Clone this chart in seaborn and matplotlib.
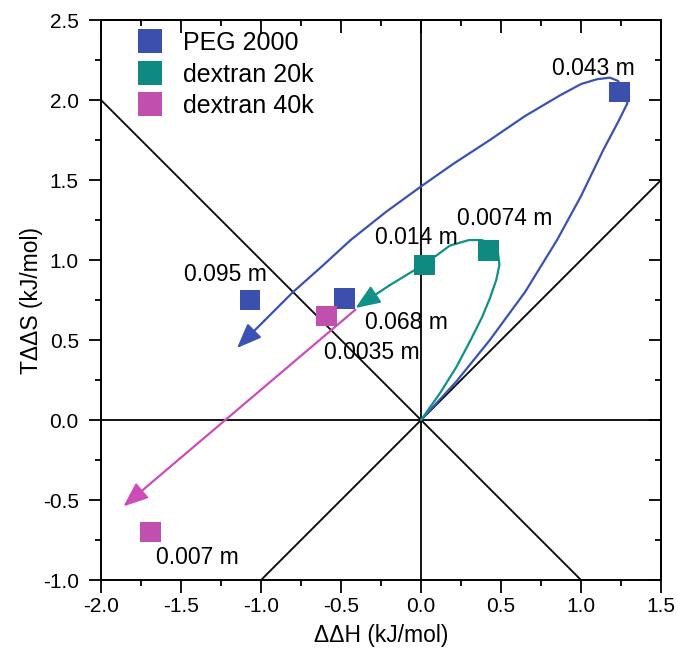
import pandas as pd
import matplotlib.pyplot as plt
import seaborn as sns
from matplotlib.ticker import MultipleLocator

# pontos medidos
polimero = ['PEG 2000', 'PEG 2000', 'PEG 2000',
            'dextran 20k', 'dextran 20k',
            'dextran 40k', 'dextran 40k']
dH = [1.24, -1.07, -0.48, 0.02, 0.42, -0.59, -1.69]
TdS = [2.05, 0.75, 0.76, 0.97, 1.06, 0.65, -0.70]

rotulos = ['0.043 m', '0.095 m', '0.068 m', '0.014 m', '0.0074 m', '0.0035 m', '0.007 m']
rot_x = [1.08, -1.22, -0.09, -0.03, 0.52, -0.31, -1.40]
rot_y = [2.20, 0.91, 0.61, 1.14, 1.26, 0.425, -0.86]

# curvas (setas) desenhadas à mão no original
peg_x = [0.0, 0.22, 0.43, 0.65, 0.85, 1.0, 1.14, 1.23, 1.29, 1.27, 1.23, 1.18, 1.1, 1.0, 0.87,
         0.65, 0.43, 0.2, 0.0, -0.22, -0.44, -0.62, -0.8, -0.98, -1.15]
peg_y = [0.0, 0.24, 0.5, 0.8, 1.125, 1.4, 1.69, 1.86, 1.98, 2.06, 2.12, 2.14, 2.13, 2.1, 2.03,
         1.9, 1.75, 1.6, 1.46, 1.3, 1.125, 0.96, 0.8, 0.62, 0.45]
d20_x = [0.0, 0.12, 0.22, 0.31, 0.38, 0.43, 0.47, 0.49, 0.48, 0.44, 0.38, 0.3, 0.18, 0.03, -0.2, -0.41]
d20_y = [0.0, 0.17, 0.33, 0.5, 0.64, 0.76, 0.875, 0.97, 1.05, 1.1, 1.125, 1.125, 1.09, 0.98, 0.84, 0.70]
d40_x = [-0.41, -1.86]
d40_y = [0.69, -0.54]

cores = {'PEG 2000': '#3b4fac', 'dextran 20k': '#0f8a80', 'dextran 40k': '#c04fae'}
cores_curva = {'PEG 2000': '#3a52b2', 'dextran 20k': '#109088', 'dextran 40k': '#cc4cba'}

dados = pd.DataFrame({'polimero': polimero, 'dH': dH, 'TdS': TdS})

sns.set_style('ticks')
plt.rcParams['font.family'] = ['Liberation Sans', 'DejaVu Sans']
plt.rcParams.update({'text.color': 'black', 'axes.labelcolor': 'black',
                     'xtick.color': 'black', 'ytick.color': 'black', 'axes.edgecolor': 'black'})

fig = plt.figure(figsize=(6.78, 6.61), dpi=100)
ax = fig.add_axes([0.149, 0.1225, 0.826, 0.8472])

# linhas de referência
ax.plot([-2.0, 1.5], [0, 0], color='black', lw=1.3, zorder=1)
ax.plot([0, 0], [-1.0, 2.5], color='black', lw=1.3, zorder=1)
ax.plot([-2.0, 1.0], [2.0, -1.0], color='black', lw=1.3, zorder=1)
ax.plot([-1.0, 1.5], [-1.0, 1.5], color='black', lw=1.3, zorder=1)

for cx, cy, nome in [(peg_x, peg_y, 'PEG 2000'), (d20_x, d20_y, 'dextran 20k'), (d40_x, d40_y, 'dextran 40k')]:
    c = cores_curva[nome]
    ax.plot(cx[:-1], cy[:-1], color=c, lw=1.6, zorder=2, solid_capstyle='round')
    ax.annotate('', xy=(cx[-1], cy[-1]), xytext=(cx[-2], cy[-2]),
                arrowprops=dict(arrowstyle='-|>,head_length=1.5,head_width=0.6', color=c, lw=1.6,
                                shrinkA=0, shrinkB=0, mutation_scale=10), zorder=2)

sns.scatterplot(data=dados, x='dH', y='TdS', hue='polimero', palette=cores, marker='s',
                s=220, linewidth=0, ax=ax, zorder=3)

for t, x, y in zip(rotulos, rot_x, rot_y):
    ax.text(x, y, t, fontsize=16.5, ha='center', va='center', zorder=4)

ax.set_xlim(-2.0, 1.5)
ax.set_ylim(-1.0, 2.5)
ax.xaxis.set_major_locator(MultipleLocator(0.5))
ax.xaxis.set_minor_locator(MultipleLocator(0.25))
ax.yaxis.set_major_locator(MultipleLocator(0.5))
ax.yaxis.set_minor_locator(MultipleLocator(0.25))
ax.xaxis.set_major_formatter(lambda v, p: f'{v:.1f}')
ax.yaxis.set_major_formatter(lambda v, p: f'{v:.1f}')
ax.tick_params(which='both', direction='out', width=1.3)
ax.tick_params(which='major', length=9, labelsize=15)
ax.tick_params(axis='x', which='major', pad=3)
ax.tick_params(axis='y', which='major', pad=7)
ax.tick_params(which='minor', length=4.5)
for s in ax.spines.values():
    s.set_linewidth(1.4)

# ticks para dentro no topo e à direita
topo = ax.secondary_xaxis('top')
direita = ax.secondary_yaxis('right')
for eixo in (topo.xaxis, direita.yaxis):
    eixo.set_major_locator(MultipleLocator(0.5))
    eixo.set_minor_locator(MultipleLocator(0.25))
topo.tick_params(which='both', direction='in', width=1.3, labeltop=False)
direita.tick_params(which='both', direction='in', width=1.3, labelright=False)
topo.tick_params(which='major', length=9)
topo.tick_params(which='minor', length=4.5)
direita.tick_params(which='major', length=9)
direita.tick_params(which='minor', length=4.5)
topo.spines['top'].set_linewidth(1.4)
direita.spines['right'].set_linewidth(1.4)

ax.set_xlabel('ΔΔH (kJ/mol)', fontsize=16.5, labelpad=6)
ax.set_ylabel('TΔΔS (kJ/mol)', fontsize=16.5, labelpad=0)

leg = ax.legend(loc='upper left', frameon=False, fontsize=18, handlelength=1.2,
                handletextpad=0.72, borderaxespad=0, labelspacing=0.3, bbox_to_anchor=(0.043, 0.998))
for h in leg.legend_handles:
    h.set_markersize(17)

fig.savefig('out.png', dpi=100)
